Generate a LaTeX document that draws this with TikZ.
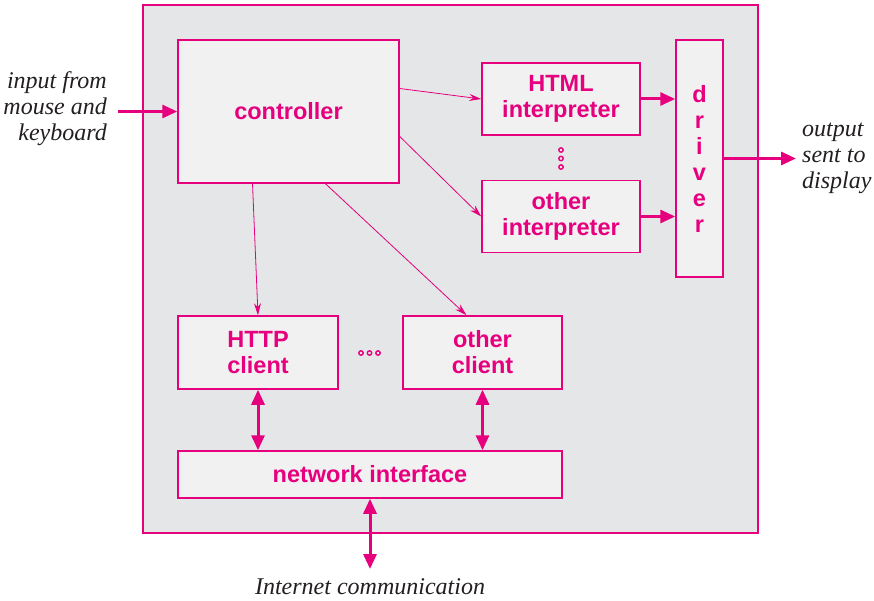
\documentclass[tikz,border=0pt]{standalone}
\usepackage{fontspec}
\setmainfont{Liberation Serif}
\newfontfamily\boxfont{Liberation Sans}
\usetikzlibrary{shapes,arrows.meta,positioning}
\definecolor{pinkline}{RGB}{230,0,126}
\definecolor{panelgray}{RGB}{229,230,231}
\definecolor{boxgray}{RGB}{241,241,242}
\definecolor{notetext}{RGB}{35,31,32}
\tikzset{panel/.style={rectangle, draw=pinkline, fill=panelgray, line width=1.3pt, inner sep=0pt}}
\tikzset{block/.style={rectangle, draw=pinkline, fill=boxgray, line width=1.5pt, text=pinkline, align=center,
 inner sep=0pt, font=\boxfont\bfseries\fontsize{23.5}{26}\selectfont}}
\tikzset{note/.style={text=notetext, inner sep=0pt, font=\itshape\fontsize{24}{26}\selectfont}}
\tikzset{line/.style={draw=pinkline, line width=0.8pt, -{Stealth[length=12pt,width=7pt]}}}
\tikzset{bigline/.style={draw=pinkline, line width=3pt, -{Triangle[length=15pt,width=13pt]}}}
\tikzset{twoway/.style={draw=pinkline, line width=3pt, {Triangle[length=15pt,width=13pt]}-{Triangle[length=15pt,width=13pt]}}}
\tikzset{dot/.style={draw=pinkline, line width=1.4pt}}

\begin{document}
\begin{tikzpicture}[x=1pt, y=-1pt]
        \useasboundingbox (0,0) rectangle (874,601);
        \node[panel, minimum width=615pt, minimum height=528pt] (browser) at (450.5,269) {};

        \node[block, minimum width=221pt, minimum height=143pt] (ctrl) at (288.5,111.5) {controller};
        \node[block, minimum width=158pt, minimum height=72pt]  (html) at (561,99) {HTML\\interpreter};
        \node[block, minimum width=158pt, minimum height=72pt, below=44pt of html] (otherint) {other\\interpreter};
        \node[block, minimum width=47pt, minimum height=237pt] (driver) at (699.5,158.5) {d\\r\\i\\v\\e\\r};
        \node[block, minimum width=160pt, minimum height=73pt] (http) at (258,352.5) {HTTP\\client};
        \node[block, minimum width=159pt, minimum height=73pt] (otherclient) at (482.5,352.5) {other\\client};
        \node[block, minimum width=384pt, minimum height=47pt] (netif) at (370,474.5) {network interface};

        \node[note, anchor=east, align=right] (input) at (107,109) {input from\\mouse and\\keyboard};
        \node[note, anchor=west, align=left] (output) at (802,158) {output\\sent to\\display};
        \node[note] (internet) at (370,587) {Internet communication};
        \coordinate (inend) at (118,111.5);
        \coordinate (outend) at (796,158.5);
        \coordinate (netend) at (370,569);

        \path[line] ([yshift=23pt]ctrl.east) -- (html.west);
        \path[line] ([yshift=-25pt]ctrl.east) -- (otherint.west);
        \path[line] ([xshift=-36pt]ctrl.south) -- (http.north);
        \path[line] ([xshift=37pt]ctrl.south) -- ([xshift=-16pt]otherclient.north);

        \path[bigline] (inend) -- (ctrl.west);
        \path[bigline] (html.east) -- (html.east -| driver.west);
        \path[bigline] (otherint.east) -- (otherint.east -| driver.west);
        \path[bigline] (driver.east) -- (outend);

        \path[twoway] (http.south) -- (http.south |- netif.north);
        \path[twoway] (otherclient.south) -- (otherclient.south |- netif.north);
        \path[twoway] (netif.south) -- (netend);

        \foreach \y in {150,158.5,167}
          \draw[dot] (561,\y) circle (2.2pt);
        \foreach \x in {361,369.5,378}
          \draw[dot] (\x,353) circle (2.2pt);
      \end{tikzpicture}
\end{document}
